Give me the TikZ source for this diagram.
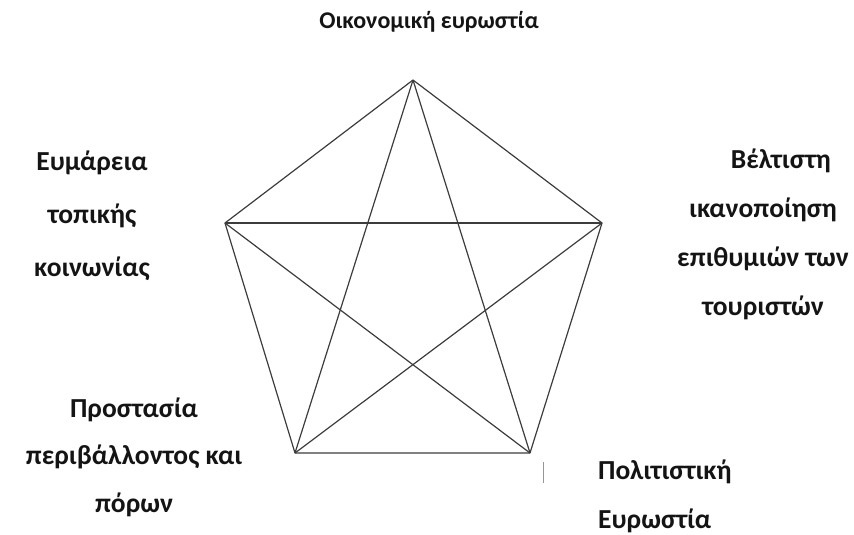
\documentclass[tikz,border=0pt]{standalone}
\usepackage{fontspec}
\setmainfont{Carlito}
\usepackage{xcolor}
\usepackage{tikz}
\usetikzlibrary{positioning, calc}
\definecolor{EdgeGray}{RGB}{60, 60, 60}
\definecolor{TickGray}{RGB}{150, 150, 150}
\definecolor{LabelInk}{RGB}{20, 20, 20}

\begin{document}
\begin{tikzpicture}[x=1pt, y=-1pt,
  goal/.style={align=center, inner sep=0pt, text=LabelInk,
    font=\bfseries\fontsize{27.5}{50}\selectfont},
  edge/.style={EdgeGray, line width=1.2pt, line join=round}
]
\useasboundingbox (0,0) rectangle (854,535);

% vertices of the pentagon
\coordinate (top)   at (413,80);
\coordinate (right) at (602,223);
\coordinate (br)    at (530,453);
\coordinate (bl)    at (295,453);
\coordinate (left)  at (225,223);

% labels
\node[goal, font=\bfseries\fontsize{24}{30}\selectfont] (econ) at (429,22) {Οικονομική ευρωστία};
\node[goal, font=\bfseries\fontsize{27.5}{53}\selectfont] (wealth) at (92,216) {Ευμάρεια\\τοπικής\\κοινωνίας};
\node[goal, font=\bfseries\fontsize{27.5}{49}\selectfont] (tourist) at (763,234) {\hspace*{1.3em}Βέλτιστη\\ικανοποίηση\\επιθυμιών των\\τουριστών};
\node[goal, font=\bfseries\fontsize{27.5}{47.5}\selectfont] (env) at (134,457) {Προστασία\\περιβάλλοντος και\\πόρων};
\node[goal, align=left, anchor=west, font=\bfseries\fontsize{27.5}{49}\selectfont] (culture) at (598,496) {Πολιτιστική\\Ευρωστία};

% outer pentagon
\draw[edge] (top) -- (right) -- (br) -- (bl) -- (left) -- cycle;
% inner star
\draw[edge] (top) -- (br);
\draw[edge] (top) -- (bl);
\draw[edge] (left) -- (right);
\draw[edge] (left) -- (br);
\draw[edge] (right) -- (bl);

% small mark below the corner
\coordinate (tickA) at (543,462);
\coordinate (tickB) at (543,483);
\draw[TickGray, line width=0.8pt] (tickA) -- (tickB);
\end{tikzpicture}
\end{document}
